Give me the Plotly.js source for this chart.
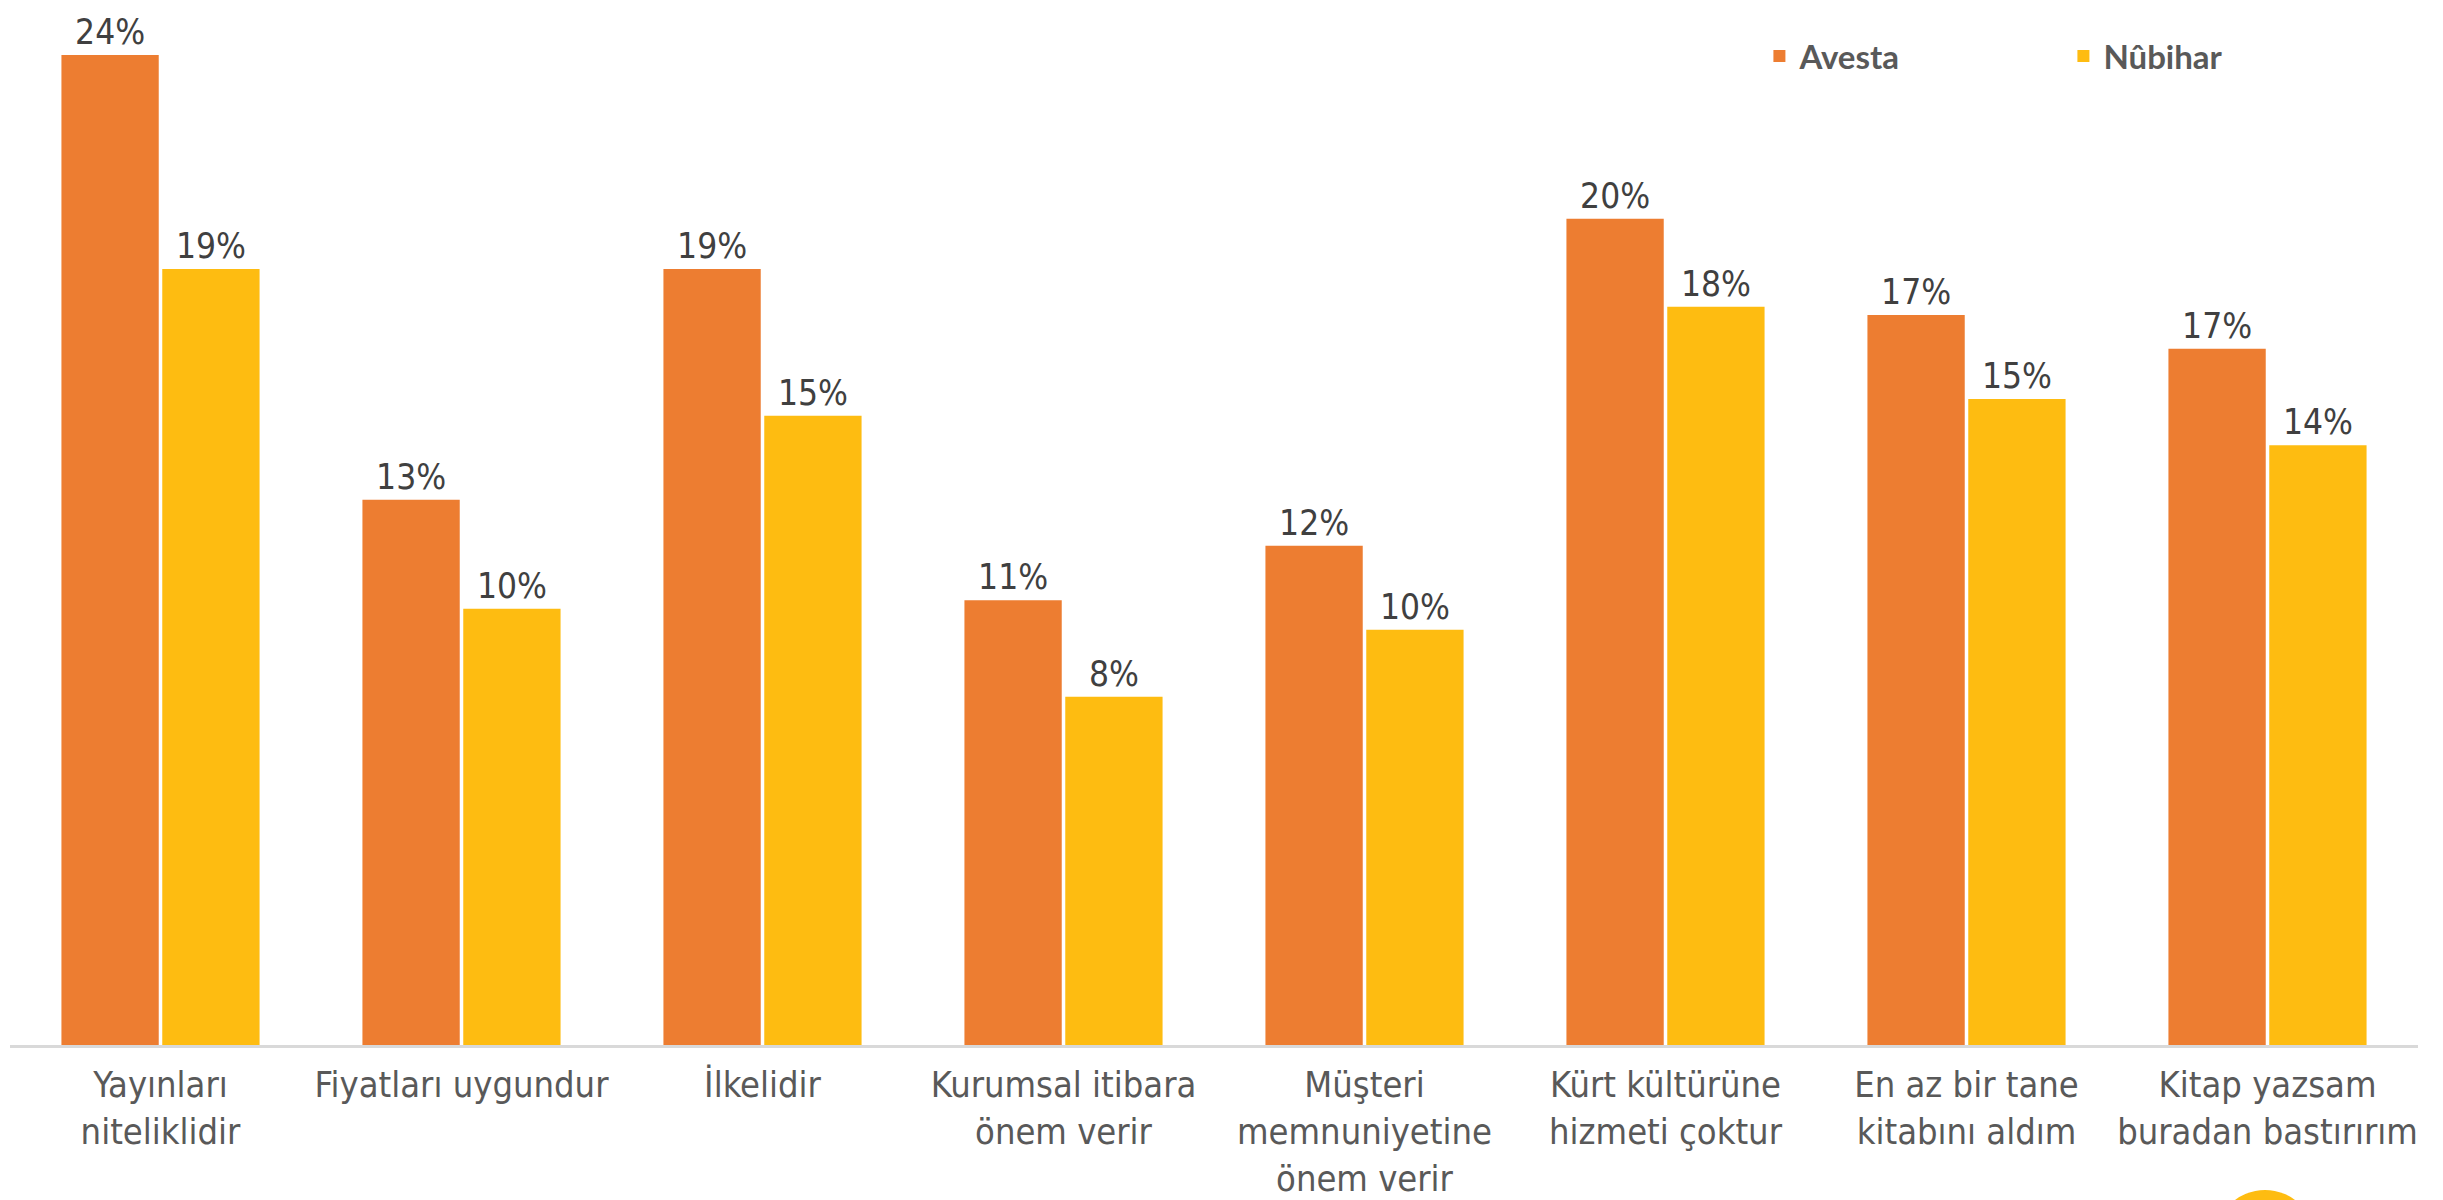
<!DOCTYPE html>
<html>
<head>
<meta charset="utf-8">
<script src="https://cdn.plot.ly/plotly-3.0.1.min.js"></script>
<style>html,body{margin:0;padding:0;background:#fff;}#chart{width:2443px;height:1200px;}</style>
</head>
<body>
<div id="chart"></div>
<script>
// Categories (x-axis tick labels)
const categories = [
  "Yayınları<br>niteliklidir",
  "Fiyatları uygundur",
  "İlkelidir",
  "Kurumsal itibara<br>önem verir",
  "Müşteri<br>memnuniyetine<br>önem verir",
  "Kürt kültürüne<br>hizmeti çoktur",
  "En az bir tane<br>kitabını aldım",
  "Kitap yazsam<br>buradan bastırırım"
];
// Series values (percent)
const avesta  = [23.6, 13.0, 18.5, 10.6, 11.9, 19.7, 17.4, 16.6];
const nubihar = [18.5, 10.4, 15.0, 8.3, 9.9, 17.6, 15.4, 14.3];
const seriesNames = ["Avesta", "Nûbihar"];

const condensed = "Liberation Sans Narrow, DejaVu Sans Condensed, sans-serif";
const labelFont = {family: condensed, size: 35, color: "#404040"};
const labelTemplate = "%{y:.0f}%";

const traces = [
  {type: "bar", name: seriesNames[0], x: categories, y: avesta,
   marker: {color: "#ED7D31", line: {width: 0}},
   texttemplate: labelTemplate, textposition: "outside", textfont: labelFont,
   cliponaxis: false, hoverinfo: "skip"},
  {type: "bar", name: seriesNames[1], x: categories, y: nubihar,
   marker: {color: "#FEBC11", line: {width: 0}},
   texttemplate: labelTemplate, textposition: "outside", textfont: labelFont,
   cliponaxis: false, hoverinfo: "skip"}
];

function px(x) { return (x - 10) / 2408; }
function py(y) { return (1045 - y) / 995; }

const layout = {
  width: 2443, height: 1200,
  margin: {l: 10, r: 25, t: 50, b: 155, pad: 0},
  paper_bgcolor: "#fff", plot_bgcolor: "#fff",
  barmode: "group", bargap: 0.33, bargroupgap: 0.035,
  showlegend: true,
  legend: {orientation: "h", x: 0.7265, xanchor: "left", y: 0.994, yanchor: "middle",
           entrywidth: 259, entrywidthmode: "pixels",
           font: {family: "Lato, Open Sans, sans-serif", size: 33, color: "#595959", weight: 700},
           bgcolor: "rgba(0,0,0,0)", traceorder: "normal"},
  xaxis: {showline: true, linecolor: "#D9D9D9", linewidth: 3, ticks: "", showgrid: false,
          zeroline: false, fixedrange: true, ticklabelstandoff: 6,
          tickfont: {family: condensed, size: 36, color: "#595959"}},
  yaxis: {range: [0, 23.72], visible: false, showgrid: false, zeroline: false, fixedrange: true},
  shapes: [
    {type: "circle", xref: "paper", yref: "paper", layer: "above",
     x0: px(2215), x1: px(2315), y0: py(1290), y1: py(1190),
     fillcolor: "#FEBC11", line: {width: 0}},
    {type: "path", xref: "paper", yref: "paper", layer: "above",
     path: "M " + px(2265) + " " + py(1190) + " A 50 50 0 0 0 " + px(2265) + " " + py(1290) + " Z",
     fillcolor: "#FFDD3A", line: {width: 0}}
  ]
};

Plotly.newPlot("chart", traces, layout, {displayModeBar: false, staticPlot: true});
</script>
</body>
</html>
